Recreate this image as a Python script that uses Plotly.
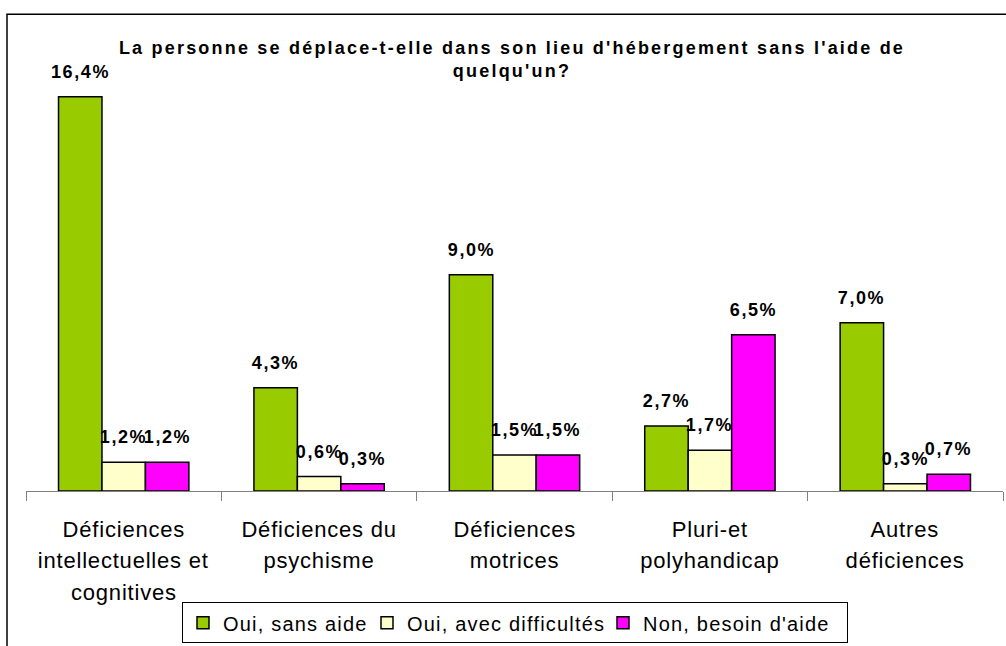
import plotly.graph_objects as go

categories = [
    "Déficiences<br>intellectuelles et<br>cognitives",
    "Déficiences du<br>psychisme",
    "Déficiences<br>motrices",
    "Pluri-et<br>polyhandicap",
    "Autres<br>déficiences",
]
series_names = ["Oui, sans aide", "Oui, avec difficultés", "Non, besoin d'aide"]
oui_sans_aide = [16.4, 4.3, 9.0, 2.7, 7.0]
oui_avec_difficultes = [1.2, 0.6, 1.5, 1.7, 0.3]
non_besoin_aide = [1.2, 0.3, 1.5, 6.5, 0.7]
series_values = [oui_sans_aide, oui_avec_difficultes, non_besoin_aide]
title_text = "La personne se déplace-t-elle dans son lieu d'hébergement sans l'aide de<br>quelqu'un?"

# styles
colors = ["#99CC00", "#FFFFCC", "#FF00FF"]
legend_widths = [139, 191, 199]

W, H = 1006, 646
ML, MR, MT, MB = 26, 3, 60, 152
plot_w = W - ML - MR
plot_h = H - MT - MB
px_per_unit = 24.2
ymax = plot_h / px_per_unit
bargap = 0.333
bar_px = plot_w / len(categories) * (1 - bargap) / 3

FONT = "Liberation Sans, Arial, sans-serif"

fig = go.Figure()
x_idx = list(range(len(categories)))
for name, vals, col, lw in zip(series_names, series_values, colors, legend_widths):
    fig.add_trace(go.Bar(
        x=x_idx, y=vals, name=name, legendwidth=lw,
        marker=dict(color=col, line=dict(color="black", width=1.5)),
    ))

annotations = []
# data labels
for i, vals in enumerate(series_values):
    for j, v in enumerate(vals):
        annotations.append(dict(
            x=j, y=v, xref="x", yref="y",
            text=f"{v:.1f}".replace(".", ",") + "%",
            showarrow=False, xanchor="center", yanchor="middle",
            xshift=(i - 1) * bar_px, yshift=25,
            font=dict(family=FONT, size=18, color="black", weight="bold"),
        ))
# category labels, one annotation per line
for j, cat in enumerate(categories):
    for k, line in enumerate(cat.split("<br>")):
        annotations.append(dict(
            x=j, y=0, xref="x", yref="paper",
            text=line, showarrow=False, xanchor="center", yanchor="middle",
            yshift=-(38 + k * 31.5),
            font=dict(family=FONT, size=22, color="black"),
        ))

fig.update_layout(
    width=W, height=H,
    margin=dict(l=ML, r=MR, t=MT, b=MB, pad=0),
    paper_bgcolor="white", plot_bgcolor="white",
    barmode="group", bargap=bargap, bargroupgap=0,
    title=dict(text=title_text, x=512 / W, xanchor="center",
               y=1 - 54 / H, yanchor="middle", yref="container",
               font=dict(family=FONT, size=18, color="black", weight="bold")),
    xaxis=dict(type="linear", range=[-0.5, len(categories) - 0.5],
               showline=True, linecolor="#808080", linewidth=1,
               showgrid=False, zeroline=False, showticklabels=False,
               tickmode="array", tickvals=[j - 0.5 for j in range(len(categories) + 1)],
               ticks="outside", ticklen=9, tickcolor="#808080", tickwidth=1),
    yaxis=dict(range=[0, ymax], visible=False, showgrid=False, zeroline=False),
    legend=dict(orientation="h", x=(182 - ML) / plot_w, xanchor="left",
                y=(494 - 606) / plot_h, yanchor="top",
                bordercolor="black", borderwidth=1, bgcolor="white",
                font=dict(family=FONT, size=20, color="black"),
                itemwidth=30, tracegroupgap=0),
    annotations=annotations,
    shapes=[dict(type="rect", xref="paper", yref="paper",
                 x0=(7 - ML) / plot_w, x1=1.2,
                 y0=-0.6, y1=(494 - 14) / plot_h,
                 line=dict(color="black", width=1.5), layer="below")],
    showlegend=True,
)

post = """
document.body.style.margin = '0';
var gd = document.getElementById('{plot_id}');
function spacing() {
  gd.querySelectorAll('.gtitle').forEach(function (e) { e.style.letterSpacing = '2.2px'; });
  gd.querySelectorAll('.legendtext').forEach(function (e) { e.style.letterSpacing = '1.2px'; });
  gd.querySelectorAll('.annotation-text').forEach(function (e) {
    e.style.letterSpacing = (e.textContent.indexOf('%') >= 0) ? '1.6px' : '0.8px';
  });
}
spacing();
gd.on('plotly_afterplot', spacing);
"""

fig.write_html("out.html", post_script=post, config={"displayModeBar": False})
